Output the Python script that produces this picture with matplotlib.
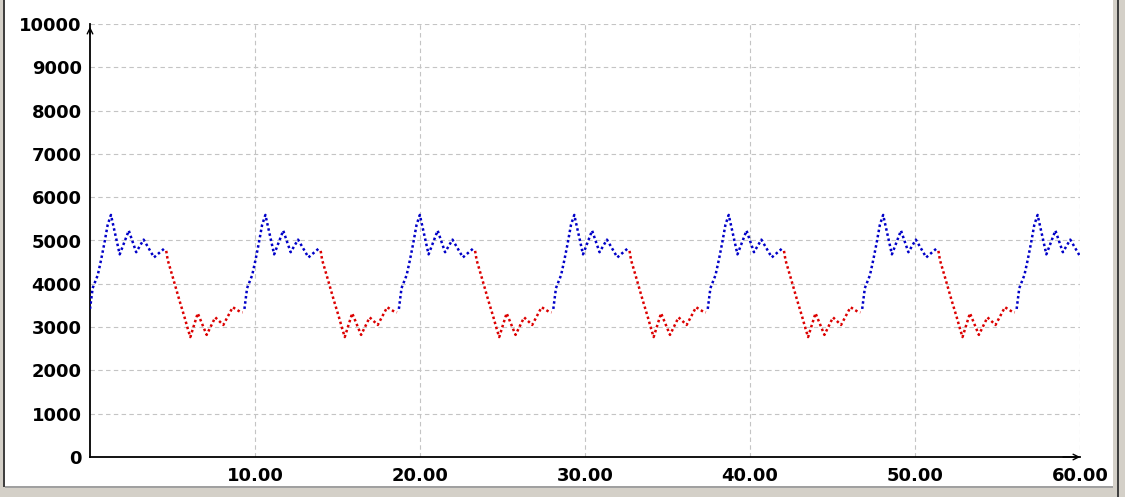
import matplotlib

matplotlib.use("Agg")
import matplotlib.pyplot as plt  # noqa: E402
from matplotlib.patches import Rectangle  # noqa: E402

W, H = 1125, 497

# one cycle of the waveform: rising/high part (blue) and falling/low part (red)
period = 9.36
n_cycles = 7
rise_t = [0.00, 0.16, 0.47, 0.67, 0.87, 1.07, 1.27, 1.80, 2.35, 2.80, 3.25, 3.88, 4.55]
rise_v = [3420, 3900, 4200, 4550, 4935, 5360, 5590, 4680, 5230, 4730, 5020, 4610, 4830]
fall_t = [4.62, 4.71, 5.01, 5.41, 5.72, 5.92, 6.08, 6.53, 7.07, 7.59, 8.08, 8.65, 9.09, 9.25]
fall_v = [4760, 4550, 4160, 3630, 3240, 2970, 2770, 3320, 2820, 3225, 3050, 3460, 3355, 3340]

x_ticks = [10, 20, 30, 40, 50, 60]
y_ticks = list(range(0, 10001, 1000))

BLUE = "#0000c8"
RED = "#dc0000"
GRID = "#c4c4c4"
FRAME = "#d4d0c8"


def px_rect(fig, x0, y0, x1, y1, color):
    # rectangle given in pixel coords, y measured from the top
    fig.add_artist(Rectangle((x0 / W, 1 - y1 / H), (x1 - x0) / W, (y1 - y0) / H,
                             transform=fig.transFigure, facecolor=color,
                             edgecolor="none", zorder=10))


fig = plt.figure(figsize=(W / 100, H / 100), dpi=100)
fig.patch.set_facecolor("white")
ax = fig.add_axes([90 / W, 1 - 457 / H, 990 / W, 433 / H])

dots = dict(lw=1.8, linestyle=(0, (1, 1.1)), dash_capstyle="butt", zorder=3)
for k in range(n_cycles):
    off = k * period
    ax.plot([off + t for t in rise_t], rise_v, color=BLUE, **dots)
    ax.plot([off + t for t in fall_t], fall_v, color=RED, **dots)

ax.set_xlim(0, 60)
ax.set_ylim(0, 10000)
ax.set_xticks(x_ticks)
ax.set_xticklabels([f"{v:.2f}" for v in x_ticks])
ax.set_yticks(y_ticks)
ax.set_yticklabels([str(v) for v in y_ticks])
ax.tick_params(length=0, labelsize=13, pad=6)
ax.tick_params(axis="x", pad=7)
for lab in ax.get_xticklabels() + ax.get_yticklabels():
    lab.set_fontweight("bold")

ax.grid(True, color=GRID, linestyle=(0, (4, 3)), lw=0.8)
ax.set_axisbelow(True)
for side in ("top", "right"):
    ax.spines[side].set_visible(False)
for side in ("left", "bottom"):
    ax.spines[side].set_linewidth(1.3)
    ax.spines[side].set_color("black")

# arrow heads at the ends of both axes
arrow = dict(arrowstyle="->", lw=1.0, color="black", mutation_scale=10)
ax.annotate("", xy=(0, 1.0), xytext=(0, 0.97), xycoords="axes fraction",
            arrowprops=arrow, annotation_clip=False)
ax.annotate("", xy=(1.003, 0), xytext=(0.98, 0), xycoords="axes fraction",
            arrowprops=arrow, annotation_clip=False)

# window border
px_rect(fig, 0, 0, 3, H, FRAME)
px_rect(fig, 3, 0, 5, H, "#404040")
px_rect(fig, 0, 487, W, H, FRAME)
px_rect(fig, 5, 486, W, 488, "#a0a0a0")
px_rect(fig, 1113, 0, W, H, FRAME)
px_rect(fig, 1117, 0, 1119, H, "#404040")

fig.savefig("out.png", dpi=100)
